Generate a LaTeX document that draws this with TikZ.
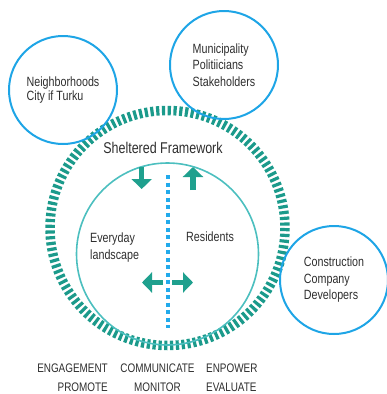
\documentclass[tikz,border=0pt]{standalone}
\usepackage{fontspec}
\setmainfont{Liberation Sans}[FakeStretch=0.8]
\usetikzlibrary{arrows.meta}

\definecolor{ringteal}{HTML}{1B9A8B}
\definecolor{innerteal}{HTML}{4CBFBF}
\definecolor{arrowteal}{HTML}{1FA08E}
\definecolor{dotblue}{HTML}{22AAEB}
\definecolor{circblue}{HTML}{1EA5E6}
\definecolor{textgray}{HTML}{2E2E2E}

\begin{document}
\begin{tikzpicture}[x=1pt, y=-1pt,
	group/.style={circle, draw=circblue, line width=2pt, minimum size=108pt, inner sep=0pt,
		align=left, text=textgray, font=\fontsize{13.4}{15}\selectfont},
	label/.style={text=textgray, inner sep=0pt, font=\fontsize{13.4}{16.5}\selectfont},
	caps/.style={text=textgray, inner sep=0pt, font=\fontsize{12.4}{19}\selectfont},
	block/.style={arrowteal, line width=5.5pt, -{Triangle[width=20pt, length=10pt]}}]

\useasboundingbox (0, 0) rectangle (387, 394);

% sheltered framework ring
\draw[ringteal, line width=9.5pt, dash pattern=on 3.2pt off 2.57pt] (167.5, 228) circle (117.5);

% stakeholder groups
\node[group, font=\fontsize{13.4}{13.7}\selectfont] (neigh) at (63, 90) {Neighborhoods\\City if Turku};
\node[group, font=\fontsize{13.4}{16.3}\selectfont] (muni) at (224, 65) {Municipality\\Politiicians\\Stakeholders};
\node[group, font=\fontsize{13.4}{16.5}\selectfont] (constr) at (334, 280) {Construction\\Company\\Developers};

% inner circle and divider
\draw[innerteal, line width=1.6pt] (167.5, 254) circle (91);
\coordinate (top) at (168, 175);
\coordinate (bottom) at (168, 328);
\draw[dotblue, line width=4.5pt, dash pattern=on 4pt off 3.5pt] (top) -- (bottom);

% exchange arrows
\draw[block] (141.7, 167) -- (141.7, 189);
\draw[block] (193, 190) -- (193, 167);
\draw[block] (163, 282.5) -- (142, 282.5);
\draw[block] (172, 282.5) -- (193, 282.5);

\node[label, font=\fontsize{15.6}{17}\selectfont] (shelter) at (163, 148) {Sheltered Framework};
\node[label, anchor=west, align=left] (everyday) at (90, 247.5) {Everyday\\landscape};
\node[label, anchor=west] (resid) at (186, 237) {Residents};

\node[caps, anchor=east, align=right] (engage) at (108, 377.5) {ENGAGEMENT\\PROMOTE};
\node[caps, align=center] (commun) at (157.5, 377.5) {COMMUNICATE\\MONITOR};
\node[caps, anchor=west, align=left] (empower) at (206, 377.5) {ENPOWER\\EVALUATE};

\end{tikzpicture}
\end{document}
